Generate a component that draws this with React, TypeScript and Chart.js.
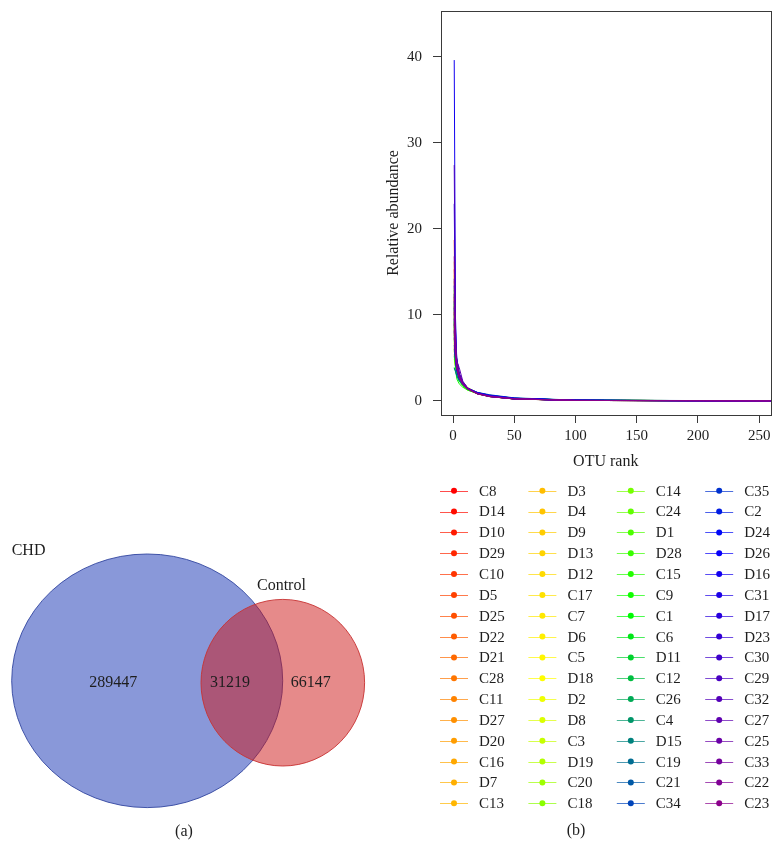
import React, { useEffect, useRef } from 'react';
import { Chart, registerables } from 'chart.js';

Chart.register(...registerables);

const SERIF = '"Liberation Serif", "DejaVu Serif", serif';
const TEXT = '#1e1e1e';
const AXIS = '#3a3a3a';

// ---------- Panel (a): Venn data ----------
const VENN_SETS = ['CHD', 'Control'];
const VENN_ONLY = [289447, 66147];
const VENN_SHARED = 31219;

// ---------- Panel (b): rank abundance data ----------
const SAMPLES = [
  'C8', 'D14', 'D10', 'D29', 'C10', 'D5', 'D25', 'D22', 'D21', 'C28', 'C11', 'D27', 'D20', 'C16', 'D7', 'C13',
  'D3', 'D4', 'D9', 'D13', 'D12', 'C17', 'C7', 'D6', 'C5', 'D18', 'D2', 'D8', 'C3', 'D19', 'C20', 'C18',
  'C14', 'C24', 'D1', 'D28', 'C15', 'C9', 'C1', 'C6', 'D11', 'C12', 'C26', 'C4', 'D15', 'C19', 'C21', 'C34',
  'C35', 'C2', 'D24', 'D26', 'D16', 'C31', 'D17', 'D23', 'C30', 'C29', 'C32', 'C27', 'C25', 'C33', 'C22', 'C23',
];

const OTU_RANKS = [1, 2, 3, 5, 8, 12, 20, 30, 50, 100, 270];

const ABUNDANCE = [
  [12.5, 6.2, 4.3, 2.9, 2.0, 1.42, 0.86, 0.54, 0.25, 0.07, 0.01],
  [8.2, 5.1, 3.9, 2.8, 1.95, 1.40, 0.88, 0.56, 0.27, 0.07, 0.01],
  [15.3, 6.9, 4.6, 3.0, 2.05, 1.44, 0.85, 0.52, 0.24, 0.06, 0.01],
  [6.1, 4.5, 3.6, 2.7, 1.9, 1.38, 0.89, 0.57, 0.28, 0.08, 0.01],
  [10.4, 5.7, 4.1, 2.85, 2.0, 1.41, 0.87, 0.55, 0.26, 0.07, 0.01],
  [18.7, 7.3, 4.7, 3.1, 2.1, 1.45, 0.84, 0.51, 0.23, 0.06, 0.01],
  [9.6, 5.4, 4.0, 2.8, 1.97, 1.40, 0.87, 0.55, 0.26, 0.07, 0.01],
  [7.3, 4.9, 3.8, 2.75, 1.93, 1.39, 0.88, 0.56, 0.27, 0.07, 0.01],
  [11.8, 6.0, 4.2, 2.9, 2.0, 1.42, 0.86, 0.54, 0.25, 0.07, 0.01],
  [5.4, 4.2, 3.4, 2.6, 1.88, 1.37, 0.90, 0.58, 0.28, 0.08, 0.01],
  [13.9, 6.5, 4.4, 2.95, 2.02, 1.43, 0.85, 0.53, 0.25, 0.06, 0.01],
  [8.8, 5.2, 3.9, 2.78, 1.96, 1.40, 0.87, 0.55, 0.26, 0.07, 0.01],
  [6.7, 4.7, 3.7, 2.7, 1.91, 1.38, 0.89, 0.57, 0.27, 0.08, 0.01],
  [10.9, 5.8, 4.1, 2.88, 2.0, 1.42, 0.86, 0.54, 0.26, 0.07, 0.01],
  [16.2, 7.0, 4.6, 3.05, 2.07, 1.44, 0.85, 0.52, 0.24, 0.06, 0.01],
  [7.9, 5.0, 3.8, 2.76, 1.94, 1.39, 0.88, 0.56, 0.27, 0.07, 0.01],

  [9.1, 5.3, 3.7, 2.5, 1.8, 1.30, 0.92, 0.62, 0.30, 0.08, 0.01],
  [12.2, 6.1, 4.4, 3.1, 2.2, 1.55, 0.95, 0.58, 0.26, 0.06, 0.01],
  [5.8, 4.3, 3.5, 2.6, 1.85, 1.32, 0.80, 0.50, 0.24, 0.07, 0.01],
  [14.6, 6.6, 4.3, 2.8, 1.9, 1.35, 0.83, 0.52, 0.25, 0.07, 0.01],
  [8.4, 5.0, 3.6, 2.5, 1.75, 1.28, 0.84, 0.56, 0.29, 0.09, 0.01],
  [11.1, 5.9, 4.2, 3.0, 2.15, 1.50, 0.90, 0.55, 0.24, 0.06, 0.01],
  [6.3, 4.6, 3.6, 2.7, 2.0, 1.45, 0.91, 0.58, 0.27, 0.07, 0.01],
  [10.2, 5.5, 3.9, 2.7, 1.9, 1.36, 0.82, 0.51, 0.23, 0.06, 0.01],
  [7.6, 4.8, 3.5, 2.5, 1.8, 1.33, 0.86, 0.57, 0.29, 0.08, 0.01],
  [13.1, 6.4, 4.5, 3.1, 2.1, 1.47, 0.88, 0.53, 0.24, 0.06, 0.01],
  [9.9, 5.6, 4.0, 2.8, 2.0, 1.40, 0.85, 0.53, 0.25, 0.07, 0.01],
  [4.9, 3.9, 3.2, 2.5, 1.9, 1.42, 0.93, 0.60, 0.29, 0.08, 0.01],
  [11.5, 6.0, 4.1, 2.8, 1.95, 1.38, 0.84, 0.52, 0.24, 0.06, 0.01],
  [8.0, 5.0, 3.8, 2.75, 1.97, 1.41, 0.88, 0.56, 0.27, 0.07, 0.01],
  [6.9, 4.7, 3.6, 2.6, 1.88, 1.36, 0.87, 0.57, 0.28, 0.08, 0.01],
  [10.6, 5.7, 4.0, 2.85, 2.0, 1.43, 0.87, 0.54, 0.25, 0.07, 0.01],

  [7.2, 4.6, 3.4, 2.4, 1.75, 1.30, 0.88, 0.60, 0.31, 0.09, 0.01],
  [12.9, 6.3, 4.3, 2.9, 2.0, 1.40, 0.84, 0.51, 0.23, 0.06, 0.01],
  [9.3, 5.3, 3.9, 2.8, 2.0, 1.44, 0.89, 0.56, 0.26, 0.07, 0.01],
  [5.2, 4.0, 3.3, 2.5, 1.85, 1.36, 0.89, 0.59, 0.29, 0.08, 0.01],
  [8.6, 5.1, 3.7, 2.6, 1.85, 1.34, 0.86, 0.56, 0.27, 0.07, 0.01],
  [9.2, 4.1, 2.6, 2.0, 1.6, 1.25, 0.86, 0.58, 0.28, 0.08, 0.01],
  [6.0, 4.4, 3.4, 2.5, 1.8, 1.32, 0.86, 0.57, 0.28, 0.08, 0.01],
  [11.3, 5.8, 4.1, 2.85, 2.0, 1.42, 0.86, 0.53, 0.25, 0.07, 0.01],
  [3.9, 3.4, 2.9, 2.3, 1.8, 1.38, 0.92, 0.62, 0.31, 0.09, 0.01],
  [7.7, 4.9, 3.7, 2.7, 1.95, 1.40, 0.88, 0.57, 0.27, 0.07, 0.01],
  [10.1, 5.5, 3.9, 2.75, 1.95, 1.39, 0.85, 0.53, 0.25, 0.07, 0.01],
  [6.5, 4.5, 3.5, 2.6, 1.9, 1.38, 0.89, 0.58, 0.28, 0.08, 0.01],
  [8.9, 5.2, 3.8, 2.7, 1.95, 1.41, 0.90, 0.58, 0.27, 0.07, 0.01],
  [12.4, 6.2, 4.3, 2.95, 2.05, 1.44, 0.87, 0.54, 0.25, 0.06, 0.01],
  [3.8, 3.5, 3.0, 2.4, 1.9, 1.46, 1.0, 0.72, 0.36, 0.10, 0.01],
  [9.7, 5.4, 3.9, 2.8, 2.05, 1.50, 0.98, 0.66, 0.32, 0.08, 0.01],

  [11.6, 6.0, 4.2, 2.9, 2.05, 1.48, 0.95, 0.64, 0.31, 0.08, 0.01],
  [7.4, 4.8, 3.6, 2.65, 1.95, 1.45, 0.97, 0.67, 0.33, 0.09, 0.01],
  [13.4, 6.4, 4.4, 3.0, 2.1, 1.50, 0.94, 0.62, 0.29, 0.07, 0.01],
  [8.1, 5.0, 3.7, 2.7, 1.97, 1.44, 0.93, 0.63, 0.31, 0.08, 0.01],
  [39.6, 9.8, 5.1, 3.2, 2.2, 1.50, 0.88, 0.54, 0.24, 0.06, 0.01],
  [10.8, 5.8, 4.1, 2.9, 2.05, 1.46, 0.92, 0.60, 0.29, 0.07, 0.01],
  [22.9, 8.1, 4.9, 3.2, 2.2, 1.52, 0.89, 0.55, 0.25, 0.06, 0.01],
  [9.5, 5.4, 3.9, 2.8, 2.0, 1.45, 0.91, 0.59, 0.28, 0.07, 0.01],
  [14.2, 6.7, 4.5, 3.05, 2.1, 1.47, 0.88, 0.55, 0.25, 0.06, 0.01],
  [27.4, 8.6, 5.0, 3.2, 2.15, 1.48, 0.86, 0.52, 0.23, 0.06, 0.01],
  [11.0, 5.9, 4.2, 2.95, 2.1, 1.48, 0.90, 0.57, 0.27, 0.07, 0.01],
  [8.3, 5.1, 4.6, 3.9, 2.3, 1.50, 0.82, 0.50, 0.24, 0.06, 0.01],
  [12.1, 6.1, 4.3, 2.9, 2.0, 1.41, 0.84, 0.52, 0.24, 0.06, 0.01],
  [16.8, 7.1, 4.6, 3.1, 2.1, 1.44, 0.84, 0.51, 0.23, 0.06, 0.01],
  [10.3, 5.6, 4.0, 2.8, 1.98, 1.40, 0.85, 0.53, 0.25, 0.06, 0.01],
  [9.0, 5.2, 3.8, 2.7, 1.9, 1.36, 0.83, 0.52, 0.24, 0.06, 0.01],
];

const X_TICKS = [0, 50, 100, 150, 200, 250];
const Y_TICKS = [0, 10, 20, 30, 40];

// ---------- styles ----------
const RAMP = [
  [255, 0, 0],
  [255, 165, 0],
  [255, 255, 0],
  [0, 255, 0],
  [0, 0, 255],
  [139, 0, 139],
];
function rampColor(i: number, n: number): string {
  const t = (i / (n - 1)) * (RAMP.length - 1);
  const k = Math.min(Math.floor(t), RAMP.length - 2);
  const f = t - k;
  const a = RAMP[k];
  const b = RAMP[k + 1];
  const c = a.map((v, j) => Math.round(v + (b[j] - v) * f));
  return `rgb(${c[0]},${c[1]},${c[2]})`;
}
const COLORS = SAMPLES.map((_, i) => rampColor(i, SAMPLES.length));

// ---------- plugins ----------
const boxPlugin = {
  id: 'rBox',
  afterDatasetsDraw(chart: any) {
    const { ctx, chartArea } = chart;
    ctx.save();
    ctx.strokeStyle = AXIS;
    ctx.lineWidth = 1;
    ctx.strokeRect(
      Math.round(chartArea.left) + 0.5,
      Math.round(chartArea.top) + 0.5,
      Math.round(chartArea.right - chartArea.left),
      Math.round(chartArea.bottom - chartArea.top)
    );
    ctx.restore();
  },
};

const legendPlugin = {
  id: 'sampleLegend',
  afterDraw(chart: any) {
    const { ctx } = chart;
    ctx.save();
    ctx.font = `15px ${SERIF}`;
    ctx.textBaseline = 'middle';
    ctx.textAlign = 'left';
    const rows = 16;
    chart.data.datasets.forEach((ds: any, i: number) => {
      const col = Math.floor(i / rows);
      const row = i % rows;
      const x0 = 60 + col * 88.4;
      const y = 490.7 + row * 20.84;
      ctx.globalAlpha = 0.7;
      ctx.strokeStyle = ds.borderColor;
      ctx.lineWidth = 1;
      ctx.beginPath();
      ctx.moveTo(x0, Math.round(y) + 0.5);
      ctx.lineTo(x0 + 28, Math.round(y) + 0.5);
      ctx.stroke();
      ctx.globalAlpha = 1;
      ctx.fillStyle = ds.borderColor;
      ctx.beginPath();
      ctx.arc(x0 + 14, y, 3, 0, Math.PI * 2);
      ctx.fill();
      ctx.fillStyle = TEXT;
      ctx.fillText(ds.label, x0 + 39, y + 1);
    });
    ctx.font = `16px ${SERIF}`;
    ctx.textAlign = 'center';
    ctx.fillText('(b)', 196, 831);
    ctx.restore();
  },
};

const VENN_LAYOUT = {
  centers: [
    [147.2, 210.8],
    [282.8, 212.7],
  ],
  radii: [
    [135.5, 126.8],
    [81.8, 83.3],
  ],
  fills: ['rgba(20,50,180,0.5)', 'rgba(205,22,22,0.5)'],
  strokes: ['rgba(50,70,160,0.9)', 'rgba(200,50,50,0.9)'],
  nameAt: [
    [11.7, 80.7],
    [257, 115.7],
  ],
  countAt: [113.3, 310.7],
  sharedAt: 230,
  countY: 212.7,
};

const vennPlugin = {
  id: 'vennEllipses',
  afterDatasetsDraw(chart: any) {
    const { ctx } = chart;
    const xs = chart.scales.x;
    const ys = chart.scales.y;
    ctx.save();
    chart.data.datasets.forEach((ds: any, i: number) => {
      const el = chart.getDatasetMeta(i).data[0];
      const pt = ds.data[0];
      const rx = Math.abs(xs.getPixelForValue(pt.x + pt.rx) - el.x);
      const ry = Math.abs(ys.getPixelForValue(pt.y + pt.ry) - el.y);
      ctx.beginPath();
      ctx.ellipse(el.x, el.y, rx, ry, 0, 0, Math.PI * 2);
      ctx.fillStyle = VENN_LAYOUT.fills[i];
      ctx.fill();
      ctx.lineWidth = 1;
      ctx.strokeStyle = VENN_LAYOUT.strokes[i];
      ctx.stroke();
    });
    ctx.fillStyle = TEXT;
    ctx.font = `16px ${SERIF}`;
    ctx.textBaseline = 'middle';
    ctx.textAlign = 'left';
    VENN_SETS.forEach((name, i) => {
      const [x, y] = VENN_LAYOUT.nameAt[i];
      ctx.fillText(name, xs.getPixelForValue(x), ys.getPixelForValue(y));
    });
    ctx.textAlign = 'center';
    VENN_ONLY.forEach((n, i) => {
      ctx.fillText(String(n), xs.getPixelForValue(VENN_LAYOUT.countAt[i]), ys.getPixelForValue(VENN_LAYOUT.countY));
    });
    ctx.fillText(String(VENN_SHARED), xs.getPixelForValue(VENN_LAYOUT.sharedAt), ys.getPixelForValue(VENN_LAYOUT.countY));
    ctx.fillText('(a)', xs.getPixelForValue(184), ys.getPixelForValue(361.7));
    ctx.restore();
  },
};

export default function App() {
  const vennRef = useRef<HTMLCanvasElement | null>(null);
  const rankRef = useRef<HTMLCanvasElement | null>(null);

  useEffect(() => {
    Chart.defaults.font.family = SERIF;
    Chart.defaults.color = TEXT;

    const venn = new Chart(vennRef.current as HTMLCanvasElement, {
      type: 'bubble',
      data: {
        datasets: VENN_SETS.map((name, i) => ({
          label: name,
          data: [
            {
              x: VENN_LAYOUT.centers[i][0],
              y: VENN_LAYOUT.centers[i][1],
              r: 0,
              rx: VENN_LAYOUT.radii[i][0],
              ry: VENN_LAYOUT.radii[i][1],
            } as any,
          ],
          backgroundColor: 'rgba(0,0,0,0)',
          borderColor: 'rgba(0,0,0,0)',
          pointRadius: 0,
        })),
      },
      options: {
        responsive: false,
        animation: false,
        events: [],
        layout: { padding: 0 },
        plugins: { legend: { display: false }, tooltip: { enabled: false } },
        scales: {
          x: { type: 'linear', min: 0, max: 380, display: false },
          y: { type: 'linear', min: 0, max: 393, reverse: true, display: false },
        },
      },
      plugins: [vennPlugin],
    });

    const rank = new Chart(rankRef.current as HTMLCanvasElement, {
      type: 'line',
      data: {
        datasets: SAMPLES.map((name, i) => ({
          label: name,
          data: OTU_RANKS.map((r, j) => ({ x: r, y: ABUNDANCE[i][j] })),
          borderColor: COLORS[i],
          backgroundColor: COLORS[i],
          borderWidth: 1,
          pointRadius: 0,
          tension: 0,
          fill: false,
          order: SAMPLES.length - i,
        })),
      },
      options: {
        responsive: false,
        animation: false,
        events: [],
        layout: { padding: { left: 3.7, right: 11.5, top: 11, bottom: 391.7 } },
        plugins: { legend: { display: false }, tooltip: { enabled: false } },
        scales: {
          x: {
            type: 'linear',
            min: -9.8,
            max: 259.2,
            afterFit: (s: any) => {
              s.height = 56.3;
              s.paddingLeft = 0;
              s.paddingRight = 0;
            },
            afterBuildTicks: (s: any) => {
              s.ticks = X_TICKS.map((v) => ({ value: v }));
            },
            grid: { drawOnChartArea: false, drawTicks: true, tickLength: 8, color: AXIS },
            border: { display: false },
            ticks: { font: { size: 15, family: SERIF }, color: TEXT, padding: 4, maxRotation: 0 },
            title: { display: true, text: 'OTU rank', font: { size: 16, family: SERIF }, color: TEXT, padding: 0 },
          },
          y: {
            type: 'linear',
            min: -1.63,
            max: 45.3,
            afterFit: (s: any) => {
              s.width = 57.3;
              s.paddingTop = 0;
              s.paddingBottom = 0;
            },
            afterBuildTicks: (s: any) => {
              s.ticks = Y_TICKS.map((v) => ({ value: v }));
            },
            grid: { drawOnChartArea: false, drawTicks: true, tickLength: 8, color: AXIS },
            border: { display: false },
            ticks: { font: { size: 15, family: SERIF }, color: TEXT, padding: 11 },
            title: { display: true, text: 'Relative abundance', font: { size: 16, family: SERIF }, color: TEXT, padding: 0 },
          },
        },
      },
      plugins: [boxPlugin, legendPlugin],
    });

    return () => {
      venn.destroy();
      rank.destroy();
    };
  }, []);

  return (
    <div style={{ position: 'fixed', left: 0, top: 0, width: 782, height: 863, background: '#fff' }}>
      <canvas
        ref={vennRef}
        width={380}
        height={393}
        style={{ position: 'absolute', left: 0, top: 470, width: 380, height: 393, display: 'block' }}
      />
      <canvas
        ref={rankRef}
        width={402}
        height={863}
        style={{ position: 'absolute', left: 380, top: 0, width: 402, height: 863, display: 'block' }}
      />
    </div>
  );
}
